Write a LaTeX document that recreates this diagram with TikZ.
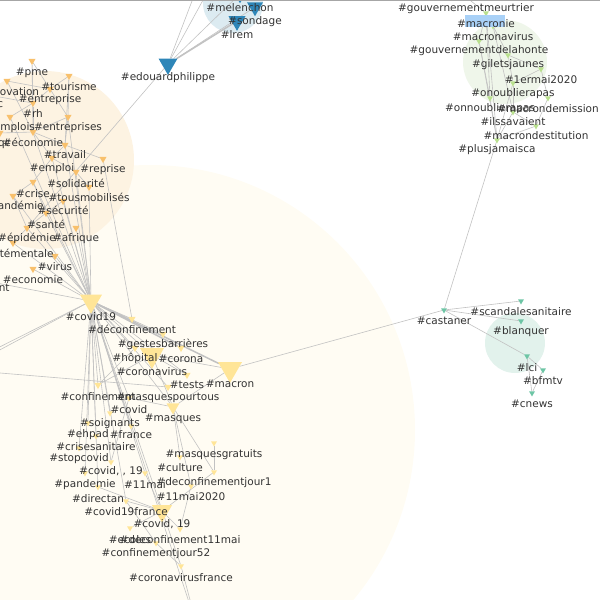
\documentclass[tikz,border=0pt]{standalone}
\usepackage{fontspec}
\setmainfont{DejaVu Sans}
\usetikzlibrary{shapes.geometric,backgrounds}
\pgfdeclarelayer{fg}
\pgfsetlayers{background,main,fg}
\definecolor{bluN}{HTML}{2E86B8}
\definecolor{yel}{HTML}{FFE597}
\definecolor{ora}{HTML}{F8C06C}
\definecolor{grn}{HTML}{B9E08E}
\definecolor{tea}{HTML}{6DC5A5}
\definecolor{creamc}{HTML}{FFFCF3}
\definecolor{orac}{HTML}{FDF3E2}
\definecolor{bluc}{HTML}{DCEBF1}
\definecolor{grnc}{HTML}{EFF6EA}
\definecolor{teac}{HTML}{E2F2EC}
\definecolor{edgec}{HTML}{C2C2C2}
\definecolor{labc}{HTML}{333333}
\definecolor{hlc}{HTML}{A9D1F7}
\newcommand\hn[7]{\node[tri,fill=#5,minimum size=#4*1.1547pt] (#1) at (#2,#3) {};
  \begin{pgfonlayer}{fg}\node[lab] (#1l) at (#2,#7) {#6};\end{pgfonlayer}}
\begin{document}
\begin{tikzpicture}[x=1pt,y=-1pt,
  tri/.style={regular polygon, regular polygon sides=3, shape border rotate=180, draw=none, inner sep=0pt, outer sep=0pt},
  lab/.style={inner sep=0pt, text=labc, yshift=-1.5pt, font=\fontsize{10.5}{12}\selectfont},
  ln/.style={draw=edgec, line width=0.6pt},
  lnb/.style={draw=edgec, line width=1.5pt}]
\useasboundingbox (0,0) rectangle (600,600);
% ---------- blue
\hn{mel}{240}{-6}{16}{bluN}{\#melenchon}{6}
\hn{sond}{255}{7}{16}{bluN}{\#sondage}{20}
\hn{lrem}{237}{21}{17}{bluN}{\#lrem}{33}
\hn{edo}{168}{64}{19}{bluN}{\#edouardphilippe}{76}
\coordinate (topA) at (200,-20);
\coordinate (topB) at (214,-20);
% ---------- orange
\hn{pme}{32}{61}{7}{ora}{\#pme}{71}
\hn{tour}{69}{76}{7}{ora}{\#tourisme}{85}
\hn{innov}{7}{81}{7}{ora}{\#innovation}{90}
\hn{entr}{50}{89}{7}{ora}{\#entreprise}{98}
\hn{pub}{-17}{94}{7}{ora}{\#public}{103}
\hn{rh}{33}{103}{7}{ora}{\#rh}{112}
\hn{emplois}{10}{117}{7}{ora}{\#emplois}{126}
\hn{entrs}{68}{117}{7}{ora}{\#entreprises}{126}
\hn{econ}{33}{132}{7}{ora}{\#économie}{141}
\hn{qc}{0}{133}{7}{ora}{\#qc}{142}
\hn{trav}{65}{145}{7}{ora}{\#travail}{153}
\hn{empl}{52}{158}{7}{ora}{\#emploi}{167}
\hn{repr}{103}{159}{7}{ora}{\#reprise}{168}
\hn{solid}{76}{172}{7}{ora}{\#solidarité}{182}
\hn{crise}{33}{182}{7}{ora}{\#crise}{192}
\hn{tous}{89}{187}{7}{ora}{\#tousmobilisés}{196}
\hn{pand}{13}{196}{7}{ora}{\#pandémie}{205}
\hn{secu}{63}{201}{7}{ora}{\#sécurité}{209}
\hn{sante}{46}{213}{7}{ora}{\#santé}{223}
\hn{afr}{76}{228}{7}{ora}{\#afrique}{237}
\hn{epid}{27}{228}{7}{ora}{\#épidémie}{237}
\hn{smen}{13}{243}{7}{ora}{\#santémentale}{252}
\hn{virus}{55}{256}{7}{ora}{\#virus}{265}
\hn{econb}{33}{269}{7}{ora}{\#economie}{278}
\hn{mgmt}{-30}{278}{7}{ora}{\#management}{287}
% ---------- yellow
\hn{cov19}{91}{301}{22}{yel}{\#covid19}{315}
\hn{deconf}{132}{319}{7}{yel}{\#déconfinement}{328}
\hn{gestes}{163}{334}{7}{yel}{\#gestesbarrières}{343}
\hn{corona}{181}{348}{7}{yel}{\#corona}{357}
\hn{hop}{135}{348}{7}{yel}{\#hôpital}{357}
\hn{cvirus}{152}{355}{24}{yel}{\#coronavirus}{370}
\hn{tests}{187}{375}{7}{yel}{\#tests}{383}
\hn{macron}{230}{369}{24}{yel}{\#macron}{382}
\hn{confi}{98}{385}{7}{yel}{\#confinement}{395}
\hn{mpt}{168}{387}{7}{yel}{\#masquespourtous}{396}
\hn{covid}{129}{398}{6}{yel}{\#covid}{408}
\hn{masq}{173}{407}{13}{yel}{\#masques}{417}
\hn{soign}{110}{413}{6}{yel}{\#soignants}{422}
\hn{ehpad}{88}{423}{6}{yel}{\#ehpad}{433}
\hn{france}{131}{426}{6}{yel}{\#france}{433}
\hn{crisan}{96}{436}{6}{yel}{\#crisesanitaire}{445}
\hn{stopc}{79}{448}{6}{yel}{\#stopcovid}{457}
\hn{cvv}{111}{462}{6}{yel}{\#covid, , 19}{470}
\hn{pandm}{85}{473}{6}{yel}{\#pandemie}{483}
\hn{onze}{145}{473}{6}{yel}{\#11mai}{483}
\hn{direct}{98}{487}{6}{yel}{\#directan}{497}
\hn{cnf}{126}{501}{6}{yel}{\#covid19france}{510}
\hn{mgrat}{214}{443}{6}{yel}{\#masquesgratuits}{453}
\hn{cult}{180}{457}{6}{yel}{\#culture}{466}
\hn{dja}{214}{472}{6}{yel}{\#deconfinementjour1}{481}
\hn{onzeb}{191}{486}{6}{yel}{\#11mai2020}{495}
\hn{cvb}{162}{511}{20}{yel}{\#covid, 19}{523}
\hn{ecol}{130}{528}{6}{yel}{\#ecoles}{538}
\hn{donze}{180}{529}{6}{yel}{\#deconfinement11mai}{538}
\hn{cjour}{156}{543}{6}{yel}{\#confinementjour52}{552}
\hn{cvf}{181}{566}{6}{yel}{\#coronavirusfrance}{576}
\coordinate (bot) at (198,630);
\coordinate (leftA) at (-60,382);
\coordinate (leftB) at (-60,377);
\coordinate (leftC) at (-60,368);
% ---------- green
\hn{gm}{466}{-3}{6}{grn}{\#gouvernementmeurtrier}{7}
\hn{mie}{486}{13}{6}{grn}{}{22}
\hn{mav}{493}{26}{6}{grn}{\#macronavirus}{35}
\hn{gdlh}{479}{41}{6}{grn}{\#gouvernementdelahonte}{49}
\hn{gj}{508}{55}{6}{grn}{\#giletsjaunes}{63}
\hn{pmai}{541}{69}{6}{grn}{\#1ermai2020}{78}
\hn{onou}{513}{83}{6}{grn}{\#onoublierapas}{92}
\hn{onno}{490}{98}{6}{grn}{\#onnoublierapas}{107}
\hn{mdem}{548}{98}{6}{grn}{\#macrondemission}{107}
\hn{ils}{513}{112}{6}{grn}{\#ilssavaient}{120}
\hn{mdest}{536}{126}{6}{grn}{\#macrondestitution}{134}
\hn{pjm}{497}{140}{6}{grn}{\#plusjamaisca}{148}
% ---------- teal
\hn{cast}{444}{310}{6}{tea}{\#castaner}{319}
\hn{scand}{521}{301}{6}{tea}{\#scandalesanitaire}{310}
\hn{blanq}{521}{321}{6}{tea}{\#blanquer}{330}
\hn{lci}{527}{356}{6}{tea}{\#lci}{366}
\hn{bfm}{543}{370}{6}{tea}{\#bfmtv}{379}
\hn{cnews}{532}{393}{6}{tea}{\#cnews}{402}
% ---------- background
\begin{scope}[on background layer]
  \fill[creamc] (150,430) circle (265);
  \fill[orac] (45,160) circle (89);
  \fill[bluc] (233,3) circle (30);
  \fill[grnc] (505,62) circle (42);
  \fill[teac] (515,343) circle (30);
  \foreach \a/\b in {edo/sond,edo/mel,edo/topA,edo/topB,edo/epid,
    pme/entr,pme/rh,pme/econ,tour/entr,tour/trav,tour/entrs,entr/entrs,entr/rh,rh/econ,rh/emplois,
    entrs/econ,entrs/trav,econ/trav,econ/empl,trav/empl,trav/repr,empl/solid,empl/crise,solid/tous,
    crise/sante,crise/pand,secu/sante,sante/epid,pand/epid,epid/smen,innov/entr,innov/econ,qc/econ,pub/rh,
    cov19/econb,cov19/virus,cov19/sante,cov19/afr,cov19/epid,cov19/smen,cov19/secu,cov19/tous,cov19/solid,
    cov19/empl,cov19/trav,cov19/crise,cov19/pand,cov19/econ,cov19/mgmt,cov19/emplois,cov19/entrs,repr/deconf,
    cov19/deconf,cov19/gestes,cov19/cvirus,cov19/hop,cov19/confi,cov19/covid,cov19/soign,cov19/ehpad,
    cov19/france,cov19/crisan,cov19/stopc,cov19/pandm,cov19/direct,cov19/cnf,cov19/masq,cov19/tests,
    cov19/mpt,cov19/onze,cov19/cvv,cov19/leftA,cov19/leftB,mpt/leftC,cov19/cvf,cov19/bot,
    cvirus/confi,cvirus/masq,cvirus/tests,cvirus/macron,macron/masq,masq/cult,masq/dja,mgrat/dja,
    covid/cvv,onze/cvb,direct/cvb,cnf/cvb,cvb/donze,cvb/ecol,cnf/cjour,cjour/cvf,cvf/bot,onzeb/donze,
    dja/cvb,masq/onzeb,hop/confi,covid/masq,
    gm/mie,mie/mav,mie/gdlh,mie/pjm,mie/onno,mav/gj,mav/ils,gdlh/onno,gdlh/pjm,gj/pmai,gj/onou,pmai/onou,
    pmai/mdem,onou/pjm,onno/pjm,mdem/mdest,ils/pjm,ils/mdest,mdest/pjm,onou/ils,
    cast/scand,cast/blanq,cast/lci,cast/pjm,cast/macron,lci/bfm,lci/cnews,bfm/cnews}
    \draw[ln] (\a) -- (\b);
  \foreach \a/\b in {edo/lrem,cov19/corona,cov19/macron}
    \draw[lnb] (\a) -- (\b);
\end{scope}
\begin{pgfonlayer}{fg}
  \fill[hlc] (465,15) rectangle (505,27);
  \node[lab] (mielab) at (486,22) {\#macronie};
\end{pgfonlayer}
\draw[gray!70, line width=1pt] (0,0.5) -- (600,0.5);
\end{tikzpicture}
\end{document}
